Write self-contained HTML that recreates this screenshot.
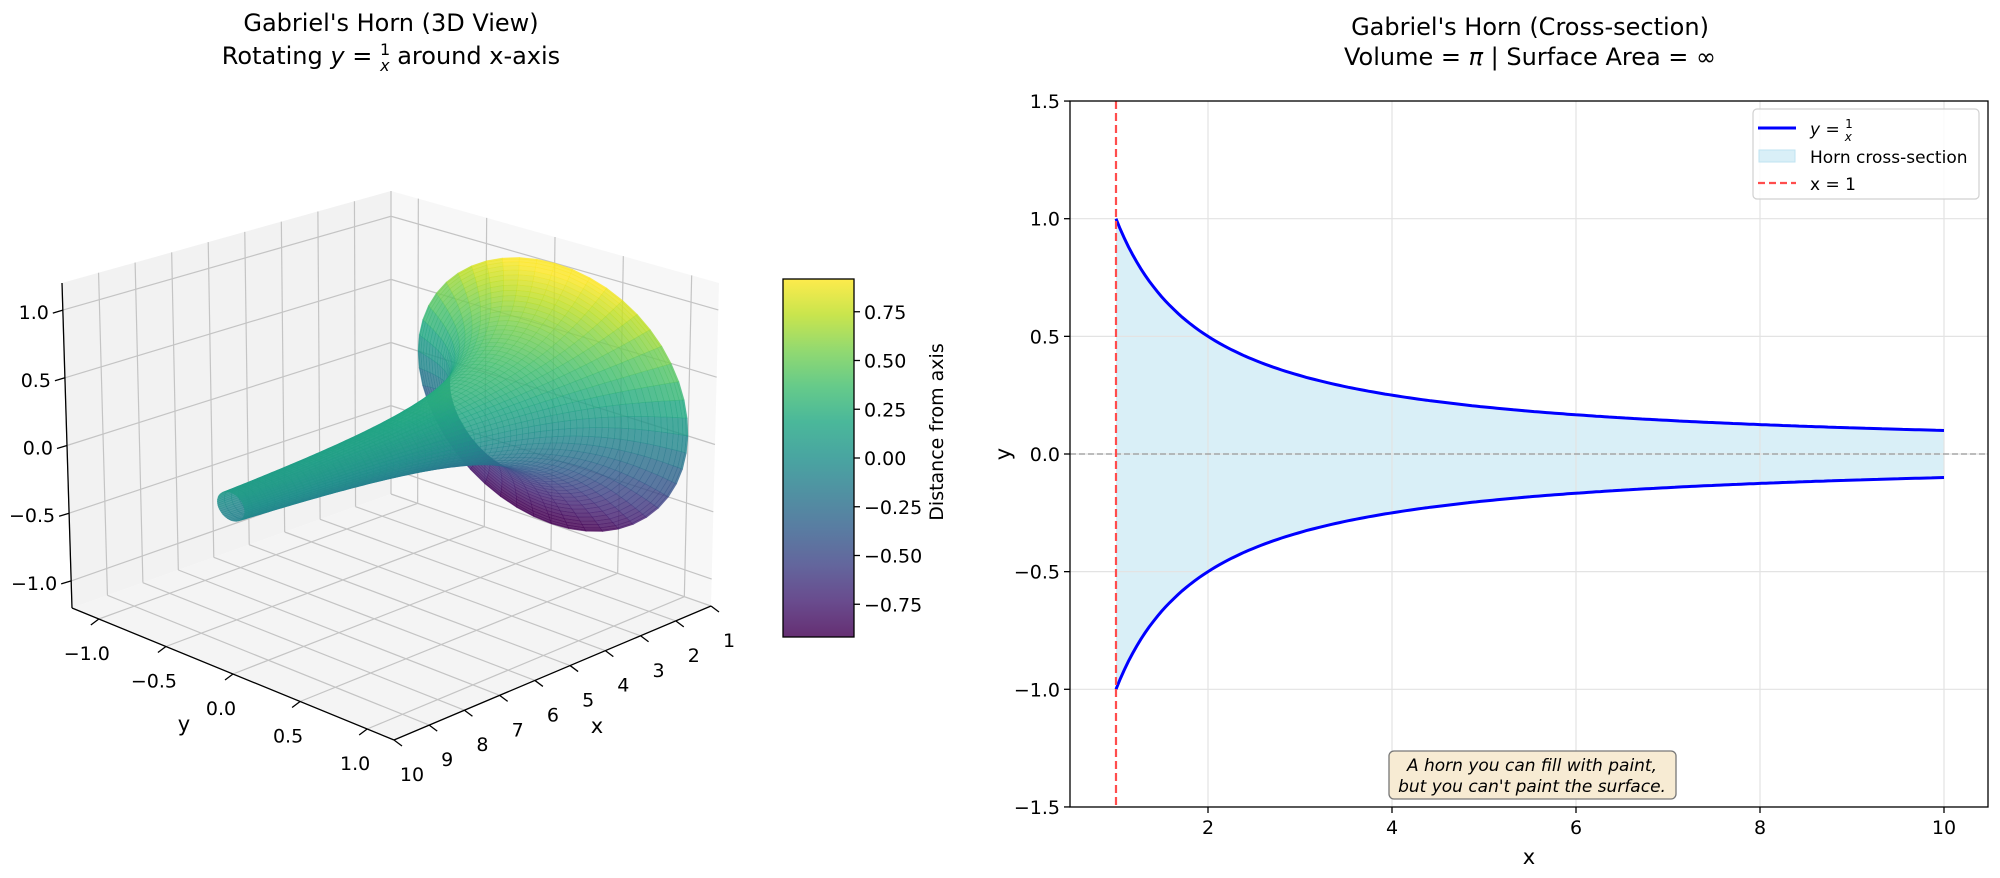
<!DOCTYPE html>
<html><head><meta charset="utf-8"><style>
body{margin:0;background:#fff}
svg{display:block;font-family:"DejaVu Sans","Liberation Sans",sans-serif}
</style></head><body>
<svg id="s" width="2000" height="878" viewBox="0 0 2000 878" xmlns="http://www.w3.org/2000/svg">
<defs>
<linearGradient id="vir" x1="0" y1="1" x2="0" y2="0">
<stop offset="0" stop-color="#440154"/><stop offset="0.1" stop-color="#482475"/><stop offset="0.2" stop-color="#414487"/><stop offset="0.3" stop-color="#355f8d"/><stop offset="0.4" stop-color="#2a788e"/><stop offset="0.5" stop-color="#21918c"/><stop offset="0.6" stop-color="#22a884"/><stop offset="0.7" stop-color="#44bf70"/><stop offset="0.8" stop-color="#7ad151"/><stop offset="0.9" stop-color="#bddf26"/><stop offset="1" stop-color="#fde725"/>
</linearGradient>
</defs>
<g id="left"></g>
<g id="right"></g>
<text x="391" y="31" font-size="24" text-anchor="middle">Gabriel's Horn (3D View)</text>
<text x="391" y="64" font-size="24" text-anchor="middle">Rotating <tspan font-style="italic">y</tspan> = <tspan font-size="16" dy="-9">1</tspan><tspan font-size="16" dx="-10" dy="16" font-style="italic">x</tspan><tspan dy="-7"> around x-axis</tspan></text>
<text x="1530" y="35" font-size="24" text-anchor="middle">Gabriel's Horn (Cross-section)</text>
<text x="1530" y="65" font-size="24" text-anchor="middle">Volume = <tspan font-style="italic">π</tspan> | Surface Area = ∞</text>
</svg>
<script>
const NS="http://www.w3.org/2000/svg";
function el(p,t,a,txt){const e=document.createElementNS(NS,t);for(const k in a)e.setAttribute(k,a[k]);if(txt!==undefined)e.textContent=txt;p.appendChild(e);return e;}
const L=document.getElementById('left'),R=document.getElementById('right');
const C={"000":[391,494],"100":[72,608],"010":[711,606],"110":[394,740],"001":[391,191],"101":[62,283],"011":[719,283],"111":[396,395]};
function P(u,v,w){let x=0,y=0;for(const a of[0,1])for(const b of[0,1])for(const c of[0,1]){const wt=(a?u:1-u)*(b?v:1-v)*(c?w:1-w);const p=C[""+a+b+c];x+=wt*p[0];y+=wt*p[1];}return[x,y];}
const U=x=>(x-1)/9,V=y=>(y+1.2)/2.4,W=z=>(z+1.2)/2.4;
function poly(pts,a){return el(L,'polygon',Object.assign({points:pts.map(p=>p[0].toFixed(1)+','+p[1].toFixed(1)).join(' ')},a));}
function line(p,q,a){return el(L,'line',Object.assign({x1:p[0],y1:p[1],x2:q[0],y2:q[1]},a));}
poly([P(0,0,0),P(1,0,0),P(1,0,1),P(0,0,1)],{fill:'#f2f2f2'});
poly([P(0,0,0),P(0,1,0),P(0,1,1),P(0,0,1)],{fill:'#f7f7f7'});
poly([P(0,0,0),P(1,0,0),P(1,1,0),P(0,1,0)],{fill:'#f4f4f4'});
const g={stroke:'#c4c4c4','stroke-width':1.2};
for(let x=1;x<=10;x++){const u=U(x);line(P(u,0,0),P(u,0,1),g);line(P(u,0,0),P(u,1,0),g);}
for(const y of[-1,-.5,0,.5,1]){const v=V(y);line(P(0,v,0),P(0,v,1),g);line(P(0,v,0),P(1,v,0),g);}
for(const z of[-1,-.5,0,.5,1]){const w=W(z);line(P(1,0,w),P(0,0,w),g);line(P(0,0,w),P(0,1,w),g);}
const ax={stroke:'#000','stroke-width':1.3};
line(P(1,0,0),P(1,0,1),ax);line(P(1,0,0),P(1,1,0),ax);line(P(1,1,0),P(0,1,0),ax);
for(const z of[-1,-.5,0,.5,1]){const p=P(1,0,W(z));line(p,[p[0]-10,p[1]+3],ax);el(L,'text',{x:p[0]-14,y:p[1]+9,'font-size':19,'text-anchor':'end'},z.toFixed(1).replace('-','−'));}
for(let x=1;x<=10;x++){const p=P(U(x),1,0);line(p,[p[0]+8,p[1]+6],ax);el(L,'text',{x:p[0]+18,y:p[1]+41,'font-size':19,'text-anchor':'middle'},x);}
for(const y of[-1,-.5,0,.5,1]){const p=P(1,V(y),0);line(p,[p[0]-8,p[1]+6],ax);el(L,'text',{x:p[0]-12,y:p[1]+41,'font-size':19,'text-anchor':'middle'},y.toFixed(1).replace('-','−'));}
el(L,'text',{x:597,y:733,'font-size':21,'text-anchor':'middle'},'x');
el(L,'text',{x:184,y:731,'font-size':21,'text-anchor':'middle'},'y');
const vs=[[68,1,84],[72,36,117],[65,68,135],[53,95,141],[42,120,142],[33,145,140],[34,168,132],[68,191,112],[122,209,81],[189,223,38],[253,231,37]];
function vir(t){t=Math.max(0,Math.min(1,t))*10;const i=Math.min(9,Math.floor(t)),f=t-i;const a=vs[i],b=vs[i+1];return 'rgb('+a.map((c,k)=>Math.round(c+(b[k]-c)*f)).join(',')+')';}
const NX=70,NT=48,faces=[];
const xs=[];for(let i=0;i<=NX;i++){const t=i/NX;xs.push(1+9*Math.pow(t,1.6));}
for(let i=0;i<NX;i++)for(let j=0;j<NT;j++){
 const q=[];let zs=0,d=0;
 for(const [ii,jj] of [[i,j],[i+1,j],[i+1,j+1],[i,j+1]]){const x=xs[ii],t=jj/NT*2*Math.PI;const y=Math.cos(t)/x,z=Math.sin(t)/x;zs+=z;const u=U(x),v=V(y),w=W(z);d+=u+v+0.75*w;q.push(P(u,v,w));}
 faces.push({q,z:zs/4,d});}
faces.sort((a,b)=>a.d-b.d);
for(const f of faces){const c=vir((f.z+0.93)/1.86);poly(f.q,{fill:c,stroke:c,'stroke-width':0.6,'fill-opacity':0.82,'stroke-opacity':0.5});}
el(L,'rect',{x:783,y:279,width:71,height:358,fill:'url(#vir)','fill-opacity':0.82,stroke:'#000','stroke-width':1.3});
for(const v of[0.75,0.5,0.25,0,-0.25,-0.5,-0.75]){const y=458-v*195;line([854,y],[860,y],ax);el(L,'text',{x:864,y:y+7,'font-size':19},v.toFixed(2).replace('-','−'));}
el(L,'text',{x:0,y:0,'font-size':19,'text-anchor':'middle',transform:'translate(943,432) rotate(-90)'},'Distance from axis');
const X=x=>1070+(x-0.5)*92,Y=y=>454-y*235.3;
function rl(p,q,a){return el(R,'line',Object.assign({x1:p[0],y1:p[1],x2:q[0],y2:q[1]},a));}
const pts=[];for(let i=0;i<=200;i++){const x=1+9*i/200;pts.push([X(x),Y(1/x)]);}
const pu=pts.map(p=>p[0].toFixed(1)+','+p[1].toFixed(1));const pd=pts.map(p=>p[0].toFixed(1)+','+(2*454-p[1]).toFixed(1));
el(R,'polygon',{points:pu.concat(pd.slice().reverse()).join(' '),fill:'#d9eff7'});
const gr={stroke:'#e3e3e3','stroke-width':1.2};
for(const x of[2,4,6,8,10])rl([X(x),101],[X(x),807],gr);
for(const y of[1.5,1,.5,0,-.5,-1,-1.5])rl([1070,Y(y)],[1988,Y(y)],gr);
rl([1070,454],[1988,454],{stroke:'#999','stroke-width':1.2,'stroke-dasharray':'6,3'});
el(R,'polyline',{points:pu.join(' '),fill:'none',stroke:'#0000ff','stroke-width':3});
el(R,'polyline',{points:pd.join(' '),fill:'none',stroke:'#0000ff','stroke-width':3});
rl([X(1),101],[X(1),807],{stroke:'#ff4d4d','stroke-width':2.2,'stroke-dasharray':'8,4'});
el(R,'rect',{x:1070,y:101,width:918,height:706,fill:'none',stroke:'#000','stroke-width':1.3});
for(const x of[2,4,6,8,10]){rl([X(x),807],[X(x),813],ax);el(R,'text',{x:X(x),y:834,'font-size':19,'text-anchor':'middle'},x);}
for(const y of[1.5,1,.5,0,-.5,-1,-1.5]){rl([1064,Y(y)],[1070,Y(y)],ax);el(R,'text',{x:1060,y:Y(y)+7,'font-size':19,'text-anchor':'end'},y.toFixed(1).replace('-','−'));}
el(R,'text',{x:1529,y:864,'font-size':21,'text-anchor':'middle'},'x');
el(R,'text',{x:0,y:0,'font-size':21,'text-anchor':'middle',transform:'translate(1010,454) rotate(-90)'},'y');
el(R,'rect',{x:1753,y:109,width:226,height:90,rx:4,fill:'#fff','fill-opacity':0.85,stroke:'#d0d0d0','stroke-width':1.2});
rl([1758,128],[1796,128],{stroke:'#0000ff','stroke-width':3});
el(R,'text',{x:1810,y:135,'font-size':17},'').innerHTML='<tspan font-style="italic">y</tspan> = <tspan font-size="12" dy="-7">1</tspan><tspan font-size="12" dx="-8" dy="13" font-style="italic">x</tspan>';
el(R,'rect',{x:1759,y:150,width:36,height:12,fill:'#d9eff7',stroke:'#bfe3f0'});
el(R,'text',{x:1810,y:163,'font-size':17},'Horn cross-section');
rl([1758,183],[1796,183],{stroke:'#ff4d4d','stroke-width':2.2,'stroke-dasharray':'7,4'});
el(R,'text',{x:1810,y:190,'font-size':17},'x = 1');
el(R,'rect',{x:1389,y:751,width:287,height:48,rx:5,fill:'#f7ebd3',stroke:'#777','stroke-width':1.3});
el(R,'text',{x:1532,y:771,'font-size':17,'font-style':'italic','text-anchor':'middle'},'A horn you can fill with paint,');
el(R,'text',{x:1532,y:792,'font-size':17,'font-style':'italic','text-anchor':'middle'},"but you can't paint the surface.");
</script>
</body></html>
